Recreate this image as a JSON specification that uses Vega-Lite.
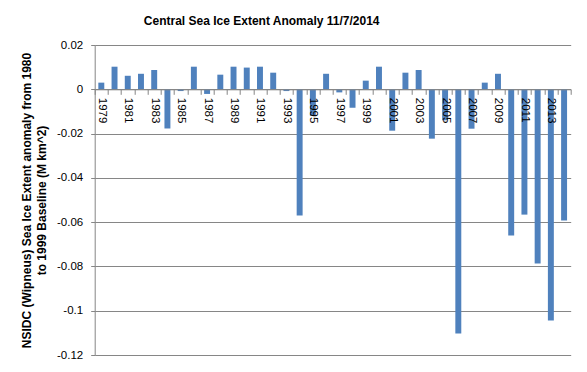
{
  "$schema": "https://vega.github.io/schema/vega-lite/v6.json",
  "autosize": "none",
  "width": 476,
  "height": 310,
  "padding": {"left": 94.7, "top": 45, "right": 16.3, "bottom": 17},
  "background": "white",
  "title": {
    "text": "Central Sea Ice Extent Anomaly 11/7/2014",
    "font": "Liberation Sans",
    "fontSize": 12,
    "fontWeight": "bold",
    "color": "#000000",
    "anchor": "middle",
    "dx": -71,
    "offset": 11
  },
  "data": {
    "values": [
      {"year": "1979", "anomaly": 0.003},
      {"year": "1980", "anomaly": 0.0102},
      {"year": "1981", "anomaly": 0.0061},
      {"year": "1982", "anomaly": 0.007},
      {"year": "1983", "anomaly": 0.0087},
      {"year": "1984", "anomaly": -0.0177},
      {"year": "1985", "anomaly": -0.0008},
      {"year": "1986", "anomaly": 0.0102},
      {"year": "1987", "anomaly": -0.0021},
      {"year": "1988", "anomaly": 0.0066},
      {"year": "1989", "anomaly": 0.0102},
      {"year": "1990", "anomaly": 0.0098},
      {"year": "1991", "anomaly": 0.0102},
      {"year": "1992", "anomaly": 0.0075},
      {"year": "1993", "anomaly": -0.0008},
      {"year": "1994", "anomaly": -0.057},
      {"year": "1995", "anomaly": -0.012},
      {"year": "1996", "anomaly": 0.007},
      {"year": "1997", "anomaly": -0.0014},
      {"year": "1998", "anomaly": -0.0083},
      {"year": "1999", "anomaly": 0.0039},
      {"year": "2000", "anomaly": 0.0102},
      {"year": "2001", "anomaly": -0.0187},
      {"year": "2002", "anomaly": 0.0075},
      {"year": "2003", "anomaly": 0.0087},
      {"year": "2004", "anomaly": -0.0223},
      {"year": "2005", "anomaly": -0.014},
      {"year": "2006", "anomaly": -0.1103},
      {"year": "2007", "anomaly": -0.0178},
      {"year": "2008", "anomaly": 0.003},
      {"year": "2009", "anomaly": 0.007},
      {"year": "2010", "anomaly": -0.066},
      {"year": "2011", "anomaly": -0.0566},
      {"year": "2012", "anomaly": -0.0787},
      {"year": "2013", "anomaly": -0.1044},
      {"year": "2014", "anomaly": -0.0593}
    ]
  },
  "mark": {"type": "bar", "color": "#4F81BD", "width": {"band": 0.45}},
  "encoding": {
    "x": {
      "field": "year",
      "type": "nominal",
      "sort": null,
      "scale": {"paddingInner": 0, "paddingOuter": 0},
      "axis": {
        "title": null,
        "orient": "bottom",
        "offset": -265.7,
        "zindex": 1,
        "tickBand": "extent",
        "domainColor": "#868686",
        "tickColor": "#868686",
        "tickSize": 5,
        "labelAngle": 90,
        "labelAlign": "left",
        "labelBaseline": "middle",
        "labelPadding": 3,
        "labelFont": "Liberation Sans",
        "labelFontSize": 11.5,
        "labelColor": "#000000",
        "labelExpr": "(parseInt(datum.value) - 1979) % 2 == 0 ? datum.value : ''",
        "labelOverlap": false,
        "grid": false
      }
    },
    "y": {
      "field": "anomaly",
      "type": "quantitative",
      "scale": {"domain": [-0.12, 0.02], "nice": false, "zero": false},
      "axis": {
        "title": ["NSIDC (Wipneus) Sea Ice Extent anomaly from 1980", "to 1999 Baseline  (M km^2)"],
        "titleFont": "Liberation Sans",
        "titleFontSize": 12,
        "titleFontWeight": "bold",
        "titleColor": "#000000",
        "titleLineHeight": 15,
        "titlePadding": 8,
        "values": [-0.12, -0.1, -0.08, -0.06, -0.04, -0.02, 0, 0.02],
        "labelExpr": "'' + datum.value",
        "labelFont": "Liberation Sans",
        "labelFontSize": 11.5,
        "labelColor": "#000000",
        "labelPadding": 8,
        "tickSize": 4,
        "tickColor": "#868686",
        "domainColor": "#868686",
        "gridColor": "#868686",
        "gridOpacity": 1,
        "grid": true
      }
    }
  },
  "config": {
    "view": {"stroke": null}
  }
}
